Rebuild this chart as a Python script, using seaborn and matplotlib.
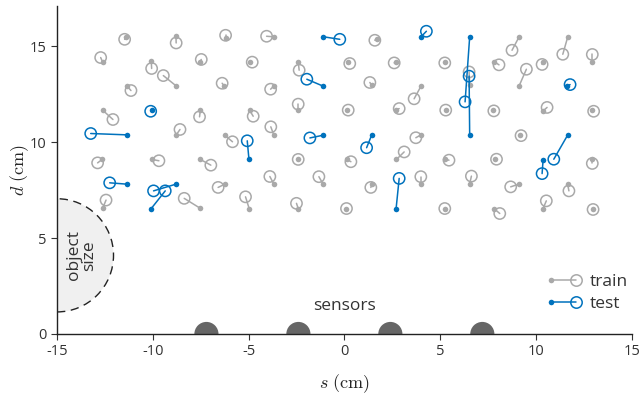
import numpy as np
import pandas as pd
import matplotlib
matplotlib.use("Agg")
import matplotlib.pyplot as plt
import seaborn as sns
from matplotlib.patches import Circle
from matplotlib.lines import Line2D
from matplotlib.legend_handler import HandlerBase

# --- datos (cm) ---
# posiciones reales (punto relleno) y estimadas (circulo abierto), entrenamiento
train_true_x = [-11.40, -8.79, -6.20, -3.68, 1.68, 9.12, 11.66,
                -12.62, -10.08, -7.52, -4.90, -2.41, 0.20, 2.72, 5.24, 7.81, 10.37, 12.94,
                -11.36, -8.78, -6.27, -3.68, 1.42, 4.00, 6.54, 9.12,
                -12.62, -7.52, -4.95, -2.41, 0.14, 2.72, 5.29, 7.76, 10.37, 12.94,
                -8.79, -6.24, -3.68, 4.00, 9.15,
                -12.64, -10.06, -7.52, -2.41, 0.14, 2.72, 5.24, 7.85, 12.94,
                -6.24, -3.68, -1.11, 1.45, 3.99, 6.54, 9.10, 11.65,
                -12.62, -7.52, -4.97, -2.41, 0.11, 5.24, 7.81, 10.37, 12.98]
train_true_y = [15.47, 15.52, 15.43, 15.49, 15.40, 15.49, 15.49,
                14.18, 14.22, 14.18, 14.20, 14.20, 14.18, 14.20, 14.20, 14.20, 14.20, 14.18,
                12.95, 12.93, 12.93, 12.93, 12.97, 12.92, 12.97, 12.93,
                11.67, 11.67, 11.67, 11.67, 11.70, 11.70, 11.67, 11.67, 11.63, 11.68,
                10.36, 10.36, 10.36, 10.38, 10.36,
                9.10, 9.10, 9.10, 9.10, 9.10, 9.10, 9.10, 9.11, 9.11,
                7.81, 7.81, 7.81, 7.81, 7.81, 7.81, 7.81, 7.81,
                6.55, 6.55, 6.54, 6.54, 6.54, 6.54, 6.54, 6.54, 6.54]
train_pred_x = [-11.47, -8.78, -6.20, -4.06, 1.59, 8.75, 11.40,
                -12.72, -10.06, -7.47, -4.81, -2.36, 0.28, 2.60, 5.24, 8.07, 10.32, 12.94,
                -11.14, -9.45, -6.38, -3.85, 1.33, 3.64, 6.51, 9.50,
                -12.08, -7.56, -4.76, -2.41, 0.20, 2.86, 5.29, 7.80, 10.58, 13.01,
                -8.58, -5.84, -3.84, 3.73, 9.22,
                -12.88, -9.68, -6.97, -2.41, 0.34, 3.12, 5.46, 7.94, 12.94,
                -6.59, -3.89, -1.33, 1.38, 3.99, 6.63, 8.68, 11.72,
                -12.44, -8.36, -5.16, -2.50, 0.11, 5.24, 8.11, 10.54, 12.98]
train_pred_y = [15.36, 15.17, 15.57, 15.52, 15.31, 14.79, 14.58,
                14.41, 13.84, 14.31, 14.17, 13.75, 14.10, 14.13, 14.13, 14.03, 14.05, 14.57,
                12.69, 13.47, 13.07, 12.76, 13.11, 12.26, 13.66, 13.80,
                11.18, 11.32, 11.35, 11.98, 11.67, 11.75, 11.67, 11.63, 11.81, 11.61,
                10.66, 10.02, 10.80, 10.23, 10.34,
                8.92, 9.03, 8.80, 9.10, 8.98, 9.49, 9.06, 9.11, 8.89,
                7.64, 8.21, 8.20, 7.64, 8.20, 8.23, 7.67, 7.46,
                6.98, 7.07, 7.15, 6.81, 6.54, 6.54, 6.28, 6.94, 6.49]

# prueba
test_true_x = [-1.14, 4.00, 6.54, -1.11, 11.64, -10.06, -11.35, -1.11, 1.43,
               6.54, 11.65, -4.98, 10.37, -11.35, -8.79, -10.08, 2.70]
test_true_y = [15.50, 15.49, 15.49, 12.92, 12.93, 11.65, 10.38, 10.36, 10.38,
               10.36, 10.36, 9.10, 9.06, 7.81, 7.81, 6.54, 6.54]
test_pred_x = [-0.24, 4.28, 6.30, -1.96, 11.78, -10.11, -13.24, -1.80, 1.16,
               6.51, 10.93, -5.07, 10.32, -12.25, -9.96, -9.35, 2.86]
test_pred_y = [15.36, 15.78, 12.10, 13.28, 13.00, 11.61, 10.45, 10.22, 9.71,
               13.44, 9.11, 10.07, 8.36, 7.88, 7.46, 7.46, 8.11]

sensor_x = [-7.2, -2.4, 2.4, 7.2]
sensor_r = 0.63
object_center = (-15, 4.1)
object_r = 2.95

GREY = "#a9a9a9"
BLUE = "#0072bd"

sns.set_theme(style="ticks")
plt.rcParams["font.family"] = ["Open Sans", "DejaVu Sans"]
plt.rcParams["mathtext.fontset"] = "cm"
plt.rcParams["axes.unicode_minus"] = False

fig = plt.figure(figsize=(6.44, 3.96), dpi=100)
ax = fig.add_axes([0.0885, 0.1566, 0.8925, 0.8284])


def draw_set(tx, ty, px, py, color, z):
    df = pd.DataFrame({"tx": tx, "ty": ty, "px": px, "py": py})
    ax.plot(np.vstack([df.tx, df.px]), np.vstack([df.ty, df.py]),
            color=color, lw=1.1, zorder=z)
    sns.scatterplot(data=df, x="tx", y="ty", ax=ax, color=color, s=16,
                    linewidth=0, zorder=z + 0.1)
    sns.scatterplot(data=df, x="px", y="py", ax=ax, color=color, s=66,
                    facecolor="none", edgecolor=color, linewidth=1.1,
                    zorder=z + 0.2)


draw_set(train_true_x, train_true_y, train_pred_x, train_pred_y, GREY, 2)
draw_set(test_true_x, test_true_y, test_pred_x, test_pred_y, BLUE, 3)

# tamano del objeto
ax.add_patch(Circle(object_center, object_r, facecolor="#f0f0f0",
                    edgecolor="#222222", ls=(0, (6, 4)), lw=1.0, zorder=1))
ax.text(-13.7, 4.1, "object\nsize", rotation=90, ha="center", va="center",
        fontsize=12.5, color="#333333", linespacing=0.95)

# sensores
for sx in sensor_x:
    ax.add_patch(Circle((sx, 0), sensor_r, color="#666666", lw=0, zorder=1))
ax.text(0, 1.45, "sensors", ha="center", va="center", fontsize=12.5,
        color="#333333")


class PairHandler(HandlerBase):
    def create_artists(self, legend, orig_handle, xdescent, ydescent,
                       width, height, fontsize, trans):
        c = orig_handle.get_color()
        y = height / 2 - ydescent
        x0, x1 = -xdescent, width - xdescent
        line = Line2D([x0, x1], [y, y], color=c, lw=1.1)
        dot = Line2D([x0], [y], marker="o", ms=4, color=c, ls="", mew=0)
        ring = Line2D([x1], [y], marker="o", ms=8.2, mfc="none", mec=c,
                      mew=1.1, ls="")
        for a in (line, dot, ring):
            a.set_transform(trans)
        return [line, dot, ring]


handles = [Line2D([], [], color=GREY), Line2D([], [], color=BLUE)]
leg = ax.legend(handles, ["train", "test"], handler_map={Line2D: PairHandler()},
                loc="lower right", bbox_to_anchor=(1.02, 0.02), frameon=False,
                fontsize=12.5, handlelength=1.45, handletextpad=0.75,
                labelspacing=0.3, labelcolor="#333333")

ax.set_xlim(-15, 15)
ax.set_ylim(0, 17.1)
ax.set_xticks([-15, -10, -5, 0, 5, 10, 15])
ax.set_yticks([0, 5, 10, 15])
ax.tick_params(direction="out", length=4, width=0.8, colors="#333333",
               labelsize=10.5, labelcolor="#333333")
for side in ["top", "right"]:
    ax.spines[side].set_visible(False)
for side in ["left", "bottom"]:
    ax.spines[side].set_color("#222222")
    ax.spines[side].set_linewidth(1.0)
ax.set_xlabel(r"$s\ \mathrm{(cm)}$", fontsize=13, labelpad=9)
ax.set_ylabel(r"$d\ \mathrm{(cm)}$", fontsize=13)
ax.yaxis.set_label_coords(-0.045, 0.5)

fig.savefig("out.png", dpi=100)
